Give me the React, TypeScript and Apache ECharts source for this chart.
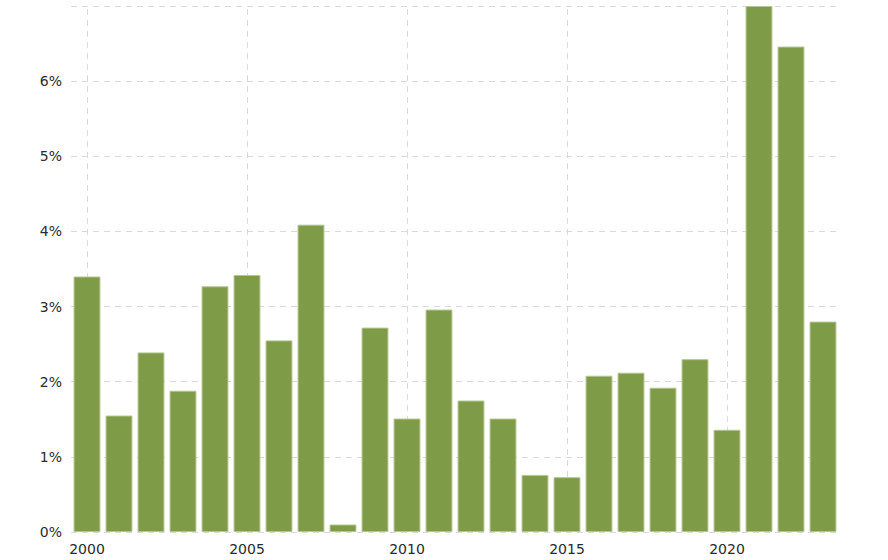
import React, { useEffect, useRef } from "react";
import * as echarts from "echarts";

const years = ["2000","2001","2002","2003","2004","2005","2006","2007","2008","2009","2010","2011","2012","2013","2014","2015","2016","2017","2018","2019","2020","2021","2022","2023"];
const rates = [3.40, 1.55, 2.39, 1.88, 3.27, 3.42, 2.55, 4.09, 0.10, 2.72, 1.51, 2.96, 1.75, 1.51, 0.76, 0.73, 2.08, 2.12, 1.92, 2.30, 1.36, 7.0, 6.46, 2.80];
const markedYears = ["2000", "2005", "2010", "2015", "2020"];
const yTicks = [0, 1, 2, 3, 4, 5, 6, 7];

export default function App() {
  const ref = useRef<HTMLDivElement>(null);
  useEffect(() => {
    if (!ref.current) return;
    const chart = echarts.init(ref.current, null, { renderer: "svg" });
    const grid = "#dadada";
    chart.setOption({
      animation: false,
      grid: { left: 71, right: 49, top: 6, bottom: 28 },
      xAxis: {
        type: "category",
        data: years,
        axisLine: { show: false },
        axisTick: { show: false },
        splitLine: { show: false },
        axisLabel: {
          interval: 4,
          margin: 10,
          color: "#2b2b2b",
          fontFamily: "DejaVu Sans",
          fontSize: 14,
        },
      },
      yAxis: {
        type: "value",
        min: yTicks[0],
        max: yTicks[yTicks.length - 1],
        interval: 1,
        axisLine: { show: false },
        axisTick: { show: false },
        splitLine: { show: true, lineStyle: { color: grid, type: [6, 5], width: 1 } },
        axisLabel: {
          showMaxLabel: false,
          margin: 9,
          color: "#2b2b2b",
          fontFamily: "DejaVu Sans",
          fontSize: 14,
          formatter: (v: number) => (v === 7 ? "" : v + "%"),
        },
      },
      series: [
        {
          type: "bar",
          data: rates,
          barCategoryGap: "16%",
          itemStyle: { color: "#7e9b48", borderColor: "#b3c78e", borderWidth: 1 },
          silent: true,
          markLine: {
            silent: true,
            z: 1,
            symbol: "none",
            label: { show: false },
            lineStyle: { color: grid, type: [6, 5], width: 1 },
            emphasis: { disabled: true },
            data: markedYears.map((y) => ({ xAxis: y })),
          },
        },
      ],
    });
    return () => chart.dispose();
  }, []);
  return <div ref={ref} style={{ width: 888, height: 560, position: "absolute", left: 0, top: 0 }} />;
}
